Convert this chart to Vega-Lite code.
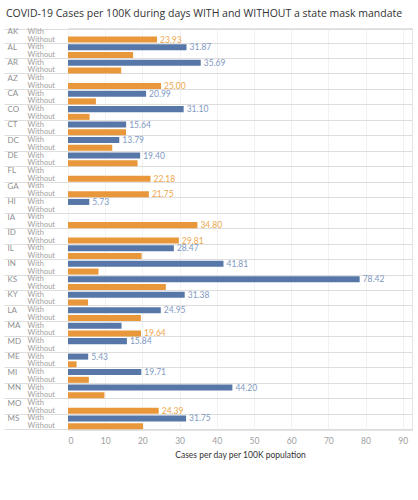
{
  "$schema": "https://vega.github.io/schema/vega-lite/v6.json",
  "autosize": {"type": "none"},
  "width": 344,
  "height": 402,
  "padding": {"left": 68, "top": 28, "right": 6, "bottom": 70},
  "background": "white",
  "title": {
    "text": "COVID-19 Cases per 100K during days WITH and WITHOUT a state mask mandate",
    "anchor": "start",
    "frame": "group",
    "dx": -62,
    "offset": 5,
    "fontSize": 10.5,
    "font": "Open Sans",
    "fontWeight": "normal",
    "color": "#333333"
  },
  "config": {
    "font": "Lato",
    "view": {"stroke": "#e3e3e3"}
  },
  "data": {
    "values": [
      {"key": "AK|Without", "state": "AK", "mask": "Without", "v": 23.93},
      {"key": "AL|With", "state": "AL", "mask": "With", "v": 31.87},
      {"key": "AL|Without", "state": "AL", "mask": "Without", "v": 17.5},
      {"key": "AR|With", "state": "AR", "mask": "With", "v": 35.69},
      {"key": "AR|Without", "state": "AR", "mask": "Without", "v": 14.3},
      {"key": "AZ|Without", "state": "AZ", "mask": "Without", "v": 25.0},
      {"key": "CA|With", "state": "CA", "mask": "With", "v": 20.99},
      {"key": "CA|Without", "state": "CA", "mask": "Without", "v": 7.5},
      {"key": "CO|With", "state": "CO", "mask": "With", "v": 31.1},
      {"key": "CO|Without", "state": "CO", "mask": "Without", "v": 5.8},
      {"key": "CT|With", "state": "CT", "mask": "With", "v": 15.64},
      {"key": "CT|Without", "state": "CT", "mask": "Without", "v": 15.6},
      {"key": "DC|With", "state": "DC", "mask": "With", "v": 13.79},
      {"key": "DC|Without", "state": "DC", "mask": "Without", "v": 11.9},
      {"key": "DE|With", "state": "DE", "mask": "With", "v": 19.4},
      {"key": "DE|Without", "state": "DE", "mask": "Without", "v": 18.7},
      {"key": "FL|Without", "state": "FL", "mask": "Without", "v": 22.18},
      {"key": "GA|Without", "state": "GA", "mask": "Without", "v": 21.75},
      {"key": "HI|With", "state": "HI", "mask": "With", "v": 5.73},
      {"key": "IA|Without", "state": "IA", "mask": "Without", "v": 34.8},
      {"key": "ID|Without", "state": "ID", "mask": "Without", "v": 29.81},
      {"key": "IL|With", "state": "IL", "mask": "With", "v": 28.47},
      {"key": "IL|Without", "state": "IL", "mask": "Without", "v": 19.8},
      {"key": "IN|With", "state": "IN", "mask": "With", "v": 41.81},
      {"key": "IN|Without", "state": "IN", "mask": "Without", "v": 8.2},
      {"key": "KS|With", "state": "KS", "mask": "With", "v": 78.42},
      {"key": "KS|Without", "state": "KS", "mask": "Without", "v": 26.3},
      {"key": "KY|With", "state": "KY", "mask": "With", "v": 31.38},
      {"key": "KY|Without", "state": "KY", "mask": "Without", "v": 5.4},
      {"key": "LA|With", "state": "LA", "mask": "With", "v": 24.95},
      {"key": "LA|Without", "state": "LA", "mask": "Without", "v": 19.6},
      {"key": "MA|With", "state": "MA", "mask": "With", "v": 14.4},
      {"key": "MA|Without", "state": "MA", "mask": "Without", "v": 19.64},
      {"key": "MD|With", "state": "MD", "mask": "With", "v": 15.84},
      {"key": "ME|With", "state": "ME", "mask": "With", "v": 5.43},
      {"key": "ME|Without", "state": "ME", "mask": "Without", "v": 2.3},
      {"key": "MI|With", "state": "MI", "mask": "With", "v": 19.71},
      {"key": "MI|Without", "state": "MI", "mask": "Without", "v": 5.6},
      {"key": "MN|With", "state": "MN", "mask": "With", "v": 44.2},
      {"key": "MN|Without", "state": "MN", "mask": "Without", "v": 9.8},
      {"key": "MO|Without", "state": "MO", "mask": "Without", "v": 24.39},
      {"key": "MS|With", "state": "MS", "mask": "With", "v": 31.75},
      {"key": "MS|Without", "state": "MS", "mask": "Without", "v": 20.2}
    ]
  },
  "encoding": {
    "x": {
      "field": "v",
      "type": "quantitative",
      "scale": {"domain": [0, 92.5], "nice": false, "zero": true},
      "axis": {
        "orient": "bottom",
        "values": [0, 10, 20, 30, 40, 50, 60, 70, 80, 90],
        "title": "Cases per day per 100K population",
        "titleFontSize": 8.5,
        "titleFontWeight": "normal",
        "titleColor": "#333333",
        "titlePadding": 6,
        "labelFontSize": 8.5,
        "labelColor": "#a0a0a0",
        "labelPadding": 6,
        "domain": false,
        "ticks": false,
        "grid": true,
        "gridColor": "#f2f2f2"
      }
    }
  },
  "layer": [
    {
      "mark": {"type": "bar"},
      "encoding": {
        "y": {
          "field": "key",
          "type": "nominal",
          "sort": null,
          "scale": {
            "domain": ["AK|With", "AK|Without", "AL|With", "AL|Without", "AR|With", "AR|Without", "AZ|With", "AZ|Without", "CA|With", "CA|Without", "CO|With", "CO|Without", "CT|With", "CT|Without", "DC|With", "DC|Without", "DE|With", "DE|Without", "FL|With", "FL|Without", "GA|With", "GA|Without", "HI|With", "HI|Without", "IA|With", "IA|Without", "ID|With", "ID|Without", "IL|With", "IL|Without", "IN|With", "IN|Without", "KS|With", "KS|Without", "KY|With", "KY|Without", "LA|With", "LA|Without", "MA|With", "MA|Without", "MD|With", "MD|Without", "ME|With", "ME|Without", "MI|With", "MI|Without", "MN|With", "MN|Without", "MO|With", "MO|Without", "MS|With", "MS|Without"],
            "paddingInner": 0.22,
            "paddingOuter": 0.1
          },
          "axis": {
            "orient": "left",
            "title": null,
            "domain": false,
            "ticks": true,
            "tickBand": "extent",
            "tickSize": 64,
            "tickColor": "#dddddd",
            "tickOpacity": {"condition": {"test": "!datum.value || test(/Without/, datum.value)", "value": 1}, "value": 0},
            "grid": true,
            "gridColor": "#dddddd",
            "gridOpacity": {"condition": {"test": "!datum.value || test(/Without/, datum.value)", "value": 1}, "value": 0},
            "labelAlign": "left",
            "labelPadding": -3,
            "labelFontSize": 8,
            "labelColor": "#909090",
            "labelExpr": "datum.value && !test(/Without/, datum.value) ? split(datum.value, '|')[0] : ''"
          }
        },
        "color": {
          "field": "mask",
          "type": "nominal",
          "scale": {"domain": ["With", "Without"], "range": ["#5677a8", "#e8973a"]},
          "legend": null
        }
      }
    },
    {
      "transform": [
        {"joinaggregate": [{"op": "max", "field": "v", "as": "mx"}], "groupby": ["state"]},
        {"filter": "datum.v == datum.mx"}
      ],
      "mark": {"type": "text", "align": "left", "baseline": "middle", "dx": 3, "fontSize": 8.5},
      "encoding": {
        "y": {
          "field": "key",
          "type": "nominal",
          "sort": null,
          "axis": {
            "orient": "left",
            "title": null,
            "domain": false,
            "ticks": false,
            "grid": false,
            "labelAlign": "left",
            "labelPadding": 41,
            "labelFontSize": 7.5,
            "labelColor": "#a0a0a0",
            "labelExpr": "datum.value ? split(datum.value, '|')[1] : ''"
          }
        },
        "text": {"field": "v", "type": "quantitative", "format": ".2f"},
        "color": {
          "condition": {"test": "datum.mask == 'With'", "value": "#8099c2"},
          "value": "#eea74e"
        }
      }
    }
  ],
  "resolve": {"axis": {"y": "independent"}}
}
